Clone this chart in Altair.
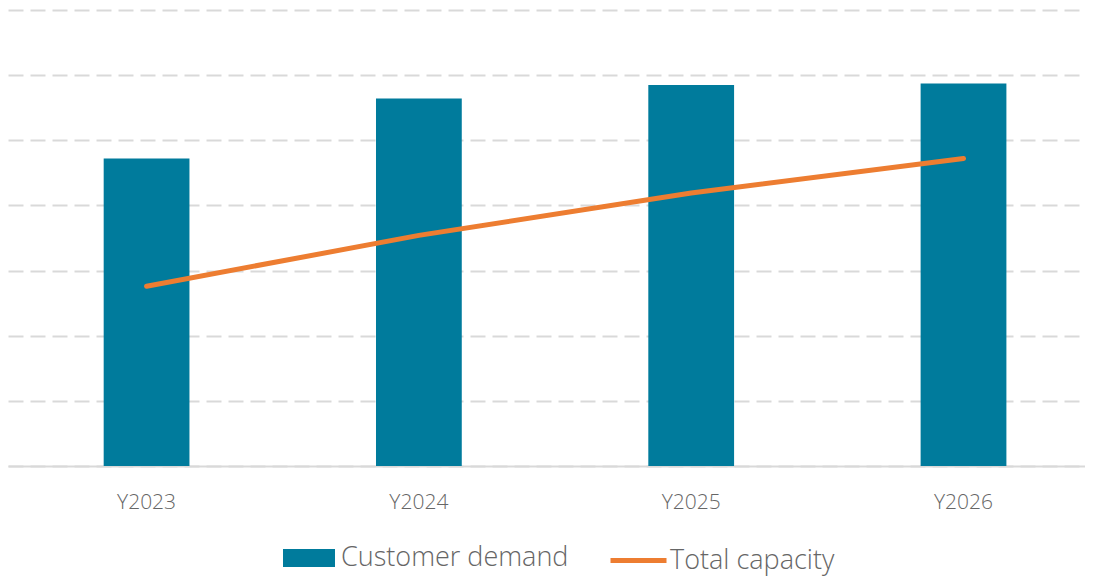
import altair as alt
import pandas as pd

years = ["Y2023", "Y2024", "Y2025", "Y2026"]
demand = [4.72, 5.64, 5.85, 5.87]
capacity = [2.76, 3.54, 4.19, 4.72]
series_names = ["Customer demand", "Total capacity"]
grid_values = [0, 1, 2, 3, 4, 5, 6, 7]

df = pd.DataFrame({
    "year": years,
    "demand": demand,
    "capacity": capacity,
    "s_demand": [series_names[0]] * len(years),
    "s_capacity": [series_names[1]] * len(years),
})

FONT = "Open Sans"
TXT = "#666666"
BLUE = "#007B9C"
ORANGE = "#ED7D31"

xenc = alt.X(
    "year:N",
    sort=years,
    scale=alt.Scale(paddingInner=0.685, paddingOuter=0.32, align=0.549),
    axis=alt.Axis(
        title=None, labelAngle=0, ticks=False, domain=True,
        domainColor="#d9d9d9", domainWidth=2,
        labelFont=FONT, labelFontSize=21, labelFontWeight=300,
        labelColor=TXT, labelPadding=25, grid=False,
    ),
)

yscale = alt.Scale(domain=[0, 7], nice=False, zero=True)

bars = alt.Chart(df).mark_bar().encode(
    x=xenc,
    y=alt.Y(
        "demand:Q",
        scale=yscale,
        axis=alt.Axis(
            title=None, labels=False, ticks=False, domain=False,
            values=grid_values, grid=True, gridColor="#d9d9d9",
            gridWidth=2, gridDash=[15, 7],
        ),
    ),
    fill=alt.Fill(
        "s_demand:N",
        scale=alt.Scale(range=[BLUE]),
        legend=alt.Legend(
            title=None, orient="none", legendX=275, legendY=522,
            symbolType="M-1,-0.346H1V0.346H-1Z", symbolSize=2704,
            symbolStrokeWidth=0, padding=0,
            labelFont=FONT, labelFontSize=27, labelFontWeight=300,
            labelColor=TXT, labelOffset=6, labelLimit=400,
        ),
    ),
)

line = alt.Chart(df).mark_line(strokeWidth=5, strokeCap="round").encode(
    x=alt.X("year:N", sort=years),
    y=alt.Y("capacity:Q", scale=yscale),
    stroke=alt.Stroke(
        "s_capacity:N",
        scale=alt.Scale(range=[ORANGE]),
        legend=alt.Legend(
            title=None, orient="none", legendX=600, legendY=520,
            symbolType="stroke", symbolSize=3136,
            symbolStrokeWidth=5, padding=0,
            labelFont=FONT, labelFontSize=27, labelFontWeight=300,
            labelColor=TXT, labelOffset=1, labelLimit=400,
        ),
    ),
)

chart = (
    alt.layer(bars, line)
    .resolve_scale(x="shared")
    .properties(
        width=1077,
        height=456,
        padding={"left": 0, "top": 2, "right": 0, "bottom": 110},
        autosize=alt.AutoSizeParams(type="none"),
    )
    .configure_view(stroke=None)
)

chart.save("out.html", embed_options={"renderer": "svg", "actions": False})
